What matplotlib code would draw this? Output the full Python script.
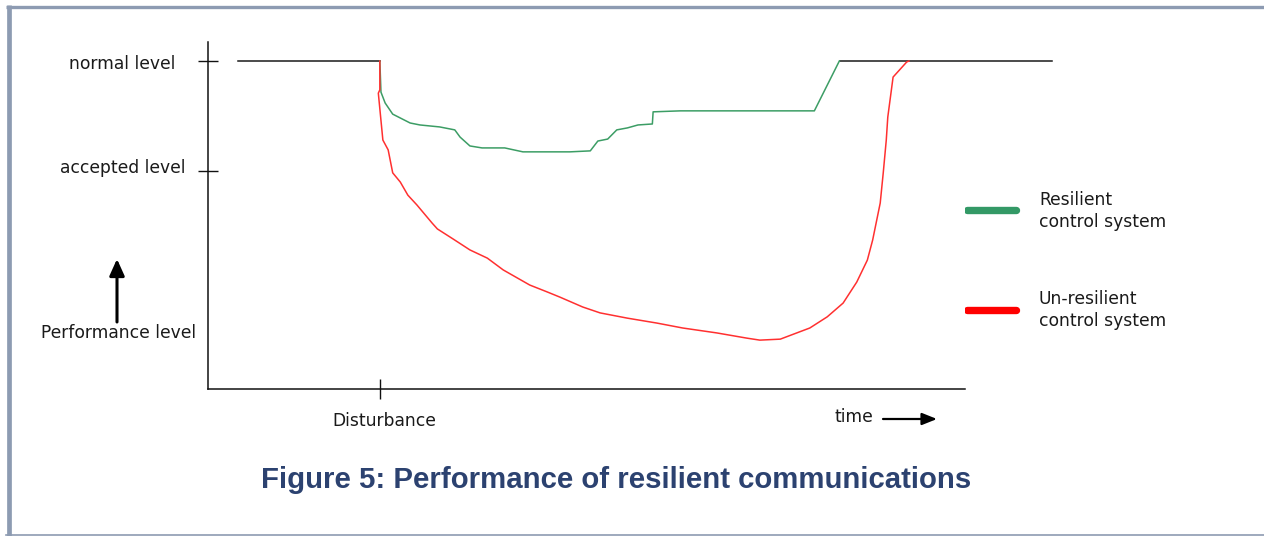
import matplotlib
matplotlib.use("Agg")
import matplotlib.pyplot as plt
from matplotlib.patches import FancyArrowPatch

# ---------------- data (time in arbitrary units 0..100, performance 0..100) -------------
normal_level = 100.0
accepted_level = 66.5
disturbance_t = 22.7

baseline_before_t = [4.0, 22.7]
baseline_before_p = [100.0, 100.0]
baseline_after_t = [83.5, 111.5]
baseline_after_p = [100.0, 100.0]

resilient_t = [22.7, 22.85, 23.4, 24.4, 26.7, 28.0, 30.6, 32.6, 33.3, 34.6, 36.2, 39.2,
               41.6, 47.8, 50.5, 51.5, 52.8, 54.0, 55.4, 56.8, 58.7, 58.8, 62.4, 80.1, 83.4]
resilient_p = [100.0, 90.5, 87.2, 83.8, 81.1, 80.5, 79.9, 79.0, 76.8, 74.1, 73.5, 73.5,
               72.3, 72.3, 72.6, 75.6, 76.2, 79.0, 79.6, 80.5, 80.8, 84.5, 84.8, 84.8, 100.0]

unresilient_t = [22.7, 22.7, 22.5, 23.1, 23.8, 24.4, 25.4, 26.4, 27.6, 29.6, 30.3, 32.4,
                 34.6, 36.9, 39.0, 42.5, 44.8, 46.5, 49.5, 51.8, 55.4, 59.3, 62.7, 67.2,
                 71.2, 72.9, 75.6, 79.5, 81.8, 83.9, 85.7, 87.1, 87.8, 88.8, 89.2, 89.6,
                 89.8, 90.5, 92.3, 92.6]
unresilient_p = [100.0, 91.2, 90.2, 75.9, 72.9, 65.9, 63.1, 59.1, 56.1, 50.6, 48.8, 45.7,
                 42.4, 39.9, 36.3, 31.7, 29.6, 28.0, 25.0, 23.2, 21.6, 20.1, 18.6, 17.1,
                 15.5, 14.9, 15.2, 18.6, 22.0, 26.2, 32.6, 39.3, 45.4, 56.7, 65.9, 75.9,
                 82.9, 95.1, 99.7, 100.0]

ytick_labels = ["normal level", "accepted level"]
xtick_labels = ["Disturbance"]
legend_labels = ["Resilient\ncontrol system", "Un-resilient\ncontrol system"]
title = "Figure 5: Performance of resilient communications"

W, H = 1264, 536
fig = plt.figure(figsize=(W / 100, H / 100), dpi=100)

# overlay axes in pixel coordinates for frame / annotations
ov = fig.add_axes([0, 0, 1, 1])
ov.set_xlim(0, W)
ov.set_ylim(H, 0)
ov.axis("off")

border = "#8d9bb2"
ov.plot([6, W + 5], [6.5, 6.5], color=border, lw=2.4, solid_capstyle="butt")
ov.plot([8.5, 8.5], [5, 536], color=border, lw=3.4, solid_capstyle="butt")
ov.plot([6, W], [535, 535], color=border, lw=1.2)

# data axes: left=208, right=965, bottom=389, top=42 (pixels)
L, R, B, T = 208, 965, 389, 42
ax = fig.add_axes([L / W, 1 - B / H, (R - L) / W, (B - T) / H])
y_per_px = 100.0 / (389 - 61)
ax.set_xlim(0, 100)
ax.set_ylim(0, (B - T) * y_per_px)
for s in ("top", "right"):
    ax.spines[s].set_visible(False)
for s in ("left", "bottom"):
    ax.spines[s].set_linewidth(1.1)
    ax.spines[s].set_color("#111111")

ax.set_yticks([normal_level, accepted_level])
ax.set_yticklabels([])
ax.set_xticks([disturbance_t])
ax.set_xticklabels([])
ax.tick_params(axis="both", direction="inout", length=14.5, width=1.0, color="#111111")

ax.plot(baseline_before_t, baseline_before_p, color="#1a1a1a", lw=1.1, clip_on=False)
ax.plot(baseline_after_t, baseline_after_p, color="#1a1a1a", lw=1.1, clip_on=False)
ax.plot(resilient_t, resilient_p, color="#3c9d65", lw=1.1, clip_on=False)
ax.plot(unresilient_t, unresilient_p, color="#ff3030", lw=1.1, clip_on=False)

font = dict(family="DejaVu Sans", size=12.3, color="#1a1a1a")

# tick labels (placed relative to the data positions)
ax.annotate(ytick_labels[0], xy=(0, normal_level), xycoords=("axes fraction", "data"),
            xytext=(-33, -3), textcoords="offset pixels", ha="right", va="center", **font)
ax.annotate(ytick_labels[1], xy=(0, accepted_level), xycoords=("axes fraction", "data"),
            xytext=(-22, 3), textcoords="offset pixels", ha="right", va="center", **font)
ax.annotate(xtick_labels[0], xy=(disturbance_t, 0), xycoords=("data", "axes fraction"),
            xytext=(4, -32), textcoords="offset pixels", ha="center", va="center", **font)

# axis titles & arrows
ov.text(119, 333, "Performance level", ha="center", va="center", **font)
ov.add_patch(FancyArrowPatch((117, 322), (117, 259), arrowstyle="-|>,head_length=1.0,head_width=0.45",
                             color="black", lw=2.2, mutation_scale=10, shrinkA=0, shrinkB=0))
ov.text(854, 417, "time", ha="center", va="center", **font)
ov.add_patch(FancyArrowPatch((883, 419), (937, 419), arrowstyle="-|>,head_length=1.0,head_width=0.4",
                             color="black", lw=1.6, mutation_scale=9, shrinkA=0, shrinkB=0))

# legend
ov.plot([967, 1016], [210, 210], color="#339966", lw=5.3, solid_capstyle="round")
ov.plot([967, 1016], [310, 310], color="#ff0000", lw=5.3, solid_capstyle="round")
ov.text(1039, 211, legend_labels[0], ha="left", va="center", linespacing=1.25, **font)
ov.text(1039, 310, legend_labels[1], ha="left", va="center", linespacing=1.25, **font)

# caption
ov.text(616, 480, title, ha="center", va="center", family="Liberation Sans",
        weight="bold", size=21.2, color="#2c4270")

fig.savefig("out.png", dpi=100)
